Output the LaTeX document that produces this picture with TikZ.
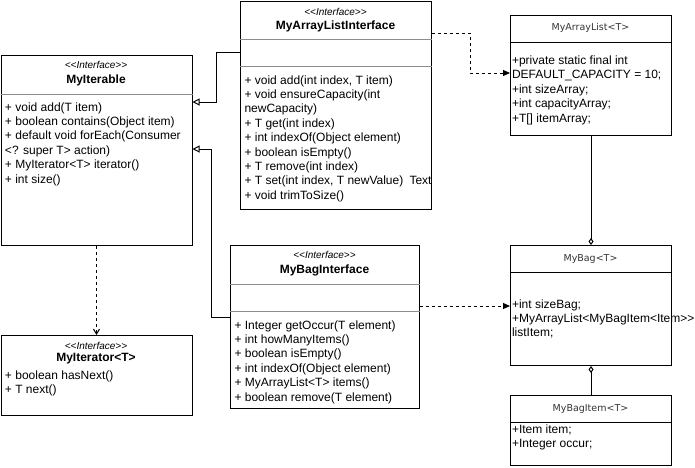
\documentclass[tikz,border=0pt]{standalone}
\usepackage{fontspec}
\setmainfont{Liberation Sans}
\newfontfamily\titlefont{DejaVu Sans}
\usetikzlibrary{arrows.meta}

\begin{document}
\begin{tikzpicture}[x=1pt,y=-1pt,line width=1pt,
    box/.style={draw,anchor=north west,inner sep=0pt},
    sep/.style={draw=black!45},
    member/.style={anchor=base west,inner sep=0pt,font=\fontsize{12}{14}\selectfont},
    stereo/.style={inner sep=0pt,font=\fontsize{10}{11}\selectfont\itshape},
    cname/.style={inner sep=0pt,font=\fontsize{12}{14}\selectfont\bfseries},
    ctitle/.style={inner sep=0pt,text=black!80,font=\titlefont\fontsize{9.5}{11}\selectfont},
    inherit/.style={-{Triangle[open,length=7pt,width=7pt]}},
    realize/.style={dashed,-{Triangle[length=7pt,width=6pt]}},
    depend/.style={dashed,-{Straight Barb[length=5pt,width=6pt]}},
    aggr/.style={-{Diamond[open,length=7pt,width=5pt]}}]
    \useasboundingbox (0,0) rectangle (695,467);

    \node[box,minimum width=191pt,minimum height=190pt](iterable) at (0.5,55){};
    \draw[sep](iterable.west |- 0,94)--(iterable.east |- 0,94);
    \node[stereo](iterableSt) at (96,65){<{}<Interface>{}>};
    \node[cname](iterableName) at (96,80){MyIterable};
    \foreach \txt [count=\i] in {{+ void add(T item)},{+ boolean contains(Object item)},{+ default void forEach(Consumer},{<? super T> action)},{+ MyIterator<T> iterator()},{+ int size()}}
        \node[member](iterableM\i) at (4.5,{111+14.4*(\i-1)}){\txt};

    \node[box,minimum width=191pt,minimum height=208pt](arrIface) at (240,1){};
    \draw[sep](arrIface.west |- 0,39)--(arrIface.east |- 0,39);
    \draw[sep](arrIface.west |- 0,66)--(arrIface.east |- 0,66);
    \node[stereo](arrIfaceSt) at (335.5,12){<{}<Interface>{}>};
    \node[cname](arrIfaceName) at (335.5,26){MyArrayListInterface};
    \foreach \txt [count=\i] in {{+ void add(int index, T item)},{+ void ensureCapacity(int},{newCapacity)},{+ T get(int index)},{+ int indexOf(Object element)},{+ boolean isEmpty()},{+ T remove(int index)},{+ T set(int index, T newValue)},{+ void trimToSize()}}
        \node[member](arrIfaceM\i) at (244,{84+14.4*(\i-1)}){\txt};
    \node[member](arrIfaceText) at (409,{84+14.4*7}){Text};

    \node[box,minimum width=189pt,minimum height=163pt](bagIface) at (230,245){};
    \draw[sep](bagIface.west |- 0,284)--(bagIface.east |- 0,284);
    \draw[sep](bagIface.west |- 0,311)--(bagIface.east |- 0,311);
    \node[stereo](bagIfaceSt) at (324.5,255){<{}<Interface>{}>};
    \node[cname](bagIfaceName) at (324.5,270){MyBagInterface};
    \foreach \txt [count=\i] in {{+ Integer getOccur(T element)},{+ int howManyItems()},{+ boolean isEmpty()},{+ int indexOf(Object element)},{+ MyArrayList<T> items()},{+ boolean remove(T element)}}
        \node[member](bagIfaceM\i) at (234,{329+14.4*(\i-1)}){\txt};

    \node[box,minimum width=191pt,minimum height=80pt](iterator) at (0.5,335){};
    \node[stereo](iteratorSt) at (96,346){<{}<Interface>{}>};
    \node[cname](iteratorName) at (96,359){MyIterator<T>};
    \node[member](iteratorM1) at (4.5,379){+ boolean hasNext()};
    \node[member](iteratorM2) at (4.5,393.4){+ T next()};

    \node[box,minimum width=161pt,minimum height=120pt](arrList) at (510,15){};
    \draw(arrList.west |- 0,42)--(arrList.east |- 0,42);
    \node[ctitle](arrListName) at (590.5,28){MyArrayList<T>};
    \foreach \txt [count=\i] in {{+private static final int},{DEFAULT\_CAPACITY = 10;},{+int sizeArray;},{+int capacityArray;},{+T[] itemArray;}}
        \node[member](arrListM\i) at (511.5,{64.5+14.4*(\i-1)}){\txt};

    \node[box,minimum width=161pt,minimum height=120pt](bag) at (510,245){};
    \draw(bag.west |- 0,272)--(bag.east |- 0,272);
    \node[ctitle](bagName) at (590.5,259){MyBag<T>};
    \foreach \txt [count=\i] in {{+int sizeBag;},{+MyArrayList<MyBagItem<Item>{}>},{listItem;}}
        \node[member](bagM\i) at (511.5,{308+14.4*(\i-1)}){\txt};

    \node[box,minimum width=161pt,minimum height=70pt](bagItem) at (510,395){};
    \draw(bagItem.west |- 0,422)--(bagItem.east |- 0,422);
    \node[ctitle](bagItemName) at (590.5,409){MyBagItem<T>};
    \node[member](bagItemM1) at (511.5,433){+Item item;};
    \node[member](bagItemM2) at (511.5,447.4){+Integer occur;};

    \draw[inherit]([yshift=-51pt]arrIface.north west)-|(216,102)--(iterable.east |- 0,102);
    \draw[inherit]([yshift=-72pt]bagIface.north west)-|(211,149)--(iterable.east |- 0,149);
    \draw[depend](iterable.south)--(iterator.north);
    \draw[realize]([yshift=-32pt]arrIface.north east)-|(470,73)--(arrList.west |- 0,73);
    \draw[realize]([yshift=-61pt]bagIface.north east)--(bag.west |- 0,306);
    \draw[aggr](arrList.south)--(bag.north);
    \draw[aggr](bagItem.north)--(bag.south);
\end{tikzpicture}
\end{document}
